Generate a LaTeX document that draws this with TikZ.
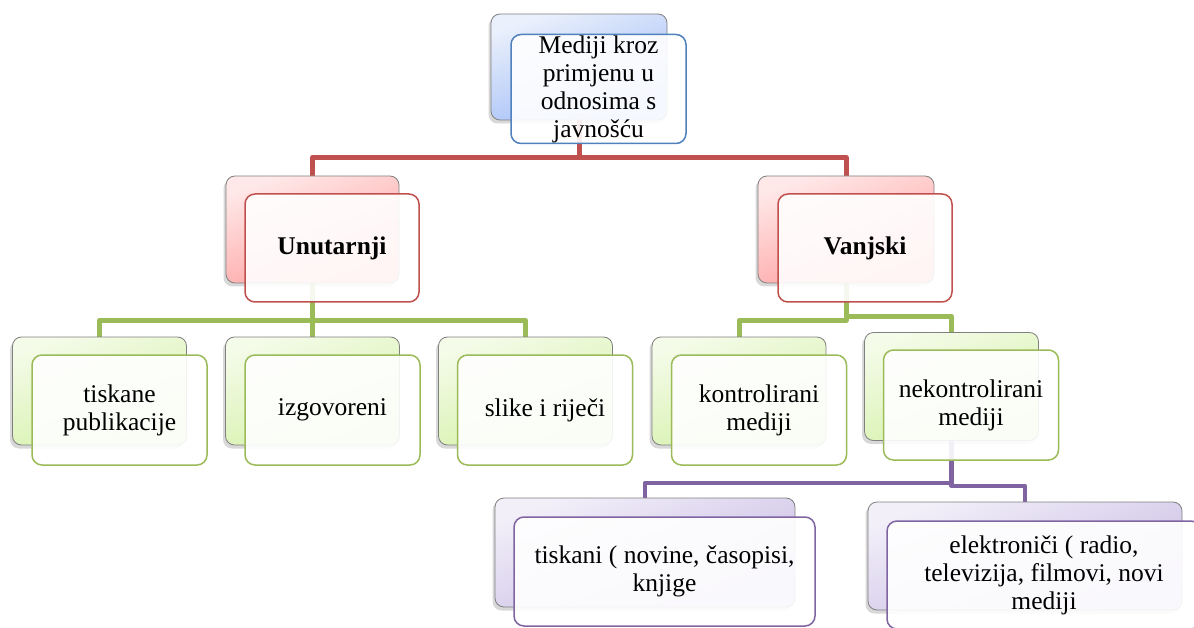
\documentclass[tikz,border=0pt]{standalone}
\usepackage{fontspec}
\setmainfont{Liberation Serif}
\usetikzlibrary{shadows,backgrounds}

\definecolor{accblue}{HTML}{4F81BD}
\definecolor{accred}{HTML}{C0504D}
\definecolor{accgreen}{HTML}{9BBB59}
\definecolor{accpurple}{HTML}{8064A2}
\definecolor{bluetop}{HTML}{EAF0FC}
\definecolor{bluebot}{HTML}{9CB9F6}
\definecolor{redtop}{HTML}{FFE8E8}
\definecolor{redbot}{HTML}{FF9C9C}
\definecolor{greentop}{HTML}{F4FBE8}
\definecolor{greenbot}{HTML}{D3F1A6}
\definecolor{purpletop}{HTML}{F2EFF9}
\definecolor{purplebot}{HTML}{C6B8E2}

\tikzset{
  backbox/.style={draw=black!50, line width=0.8pt, rounded corners=9pt, inner sep=0pt,
    minimum width=174pt, minimum height=108pt,
    drop shadow={shadow xshift=-2.5pt, shadow yshift=-3.5pt, opacity=0.3}},
  frontbox/.style={draw=#1, line width=1.5pt, fill=white, fill opacity=0.9, text opacity=1,
    rounded corners=10pt, inner sep=0pt, align=center,
    minimum width=175pt, minimum height=110pt,
    font=\fontsize{25.5}{28}\selectfont},
  bluegrad/.style={top color=bluetop, bottom color=bluebot, shading angle=20},
  redgrad/.style={top color=redtop, bottom color=redbot, shading angle=20},
  greengrad/.style={top color=greentop, bottom color=greenbot, shading angle=20},
  purplegrad/.style={top color=purpletop, bottom color=purplebot, shading angle=20},
  connector/.style={draw=#1, line width=5pt, line join=round}
}

\begin{document}
\begin{tikzpicture}[x=1pt,y=-1pt]
  \useasboundingbox (0,0) rectangle (1194,628);

  % top
  \node[backbox, bluegrad, minimum width=176pt, minimum height=106pt] (medijiB) at (579,67) {};
  \node[frontbox=accblue, minimum height=109pt] (mediji) at (598.5,89)
    {Mediji kroz\\primjenu u\\odnosima s\\javnošću};

  % second level
  \node[backbox, redgrad, minimum width=173pt, minimum height=107pt] (unutarnjiB) at (312.5,229.5) {};
  \node[frontbox=accred, minimum width=174pt, minimum height=108pt] (unutarnji) at (332,248)
    {\textbf{Unutarnji}};
  \node[backbox, redgrad, minimum width=176pt, minimum height=107pt] (vanjskiB) at (846,229.5) {};
  \node[frontbox=accred, minimum width=174pt, minimum height=108pt] (vanjski) at (865,248)
    {\textbf{Vanjski}};

  % third level
  \node[backbox, greengrad] (tiskaneB) at (99.5,391) {};
  \node[frontbox=accgreen] (tiskane) at (119.5,410) {tiskane\\publikacije};
  \node[backbox, greengrad] (izgovoreniB) at (312.5,391) {};
  \node[frontbox=accgreen] (izgovoreni) at (332.5,410) {izgovoreni};
  \node[backbox, greengrad] (slikeB) at (525.5,391) {};
  \node[frontbox=accgreen] (slike) at (545,410) {slike i riječi};
  \node[backbox, greengrad] (kontroliraniB) at (739,391) {};
  \node[frontbox=accgreen] (kontrolirani) at (759,410) {kontrolirani\\mediji};
  \node[backbox, greengrad] (nekontroliraniB) at (951.5,386.5) {};
  \node[frontbox=accgreen] (nekontrolirani) at (971,405) {nekontrolirani\\mediji};

  % fourth level
  \node[backbox, purplegrad, minimum width=300pt, minimum height=109pt] (tiskaniB) at (645,552.5) {};
  \node[frontbox=accpurple, minimum width=301pt, minimum height=109pt] (tiskani) at (664.5,571.5)
    {tiskani ( novine, časopisi,\\knjige};
  \node[backbox, purplegrad, minimum width=314pt, minimum height=108pt] (elektroniciB) at (1025,556) {};
  \node[frontbox=accpurple, minimum width=314pt, minimum height=108pt] (elektronici) at (1044,575)
    {elektroniči ( radio,\\televizija, filmovi, novi\\mediji};

  \begin{scope}[on background layer]
    \fill[white] (0,0) rectangle (1194,628);
    \draw[connector=accred] (medijiB.south) -- ++(0,37) -| (unutarnjiB.north);
    \draw[connector=accred] (medijiB.south) -- ++(0,37) -| (vanjskiB.north);
    \draw[connector=accgreen] (unutarnjiB.south) -- ++(0,37) -| (tiskaneB.north);
    \draw[connector=accgreen] (unutarnjiB.south) -- (izgovoreniB.north);
    \draw[connector=accgreen] (unutarnjiB.south) -- ++(0,37) -| (slikeB.north);
    \draw[connector=accgreen] (vanjskiB.south) -- ++(0,37) -| (kontroliraniB.north);
    \draw[connector=accgreen] (vanjskiB.south) -- ++(0,33) -| (nekontroliraniB.north);
    \draw[connector=accpurple, line width=4.5pt] (nekontroliraniB.south) -- ++(0,42) -| (tiskaniB.north);
    \draw[connector=accpurple, line width=4.5pt] (nekontroliraniB.south) -- ++(0,45) -| (elektroniciB.north);
  \end{scope}
\end{tikzpicture}
\end{document}
